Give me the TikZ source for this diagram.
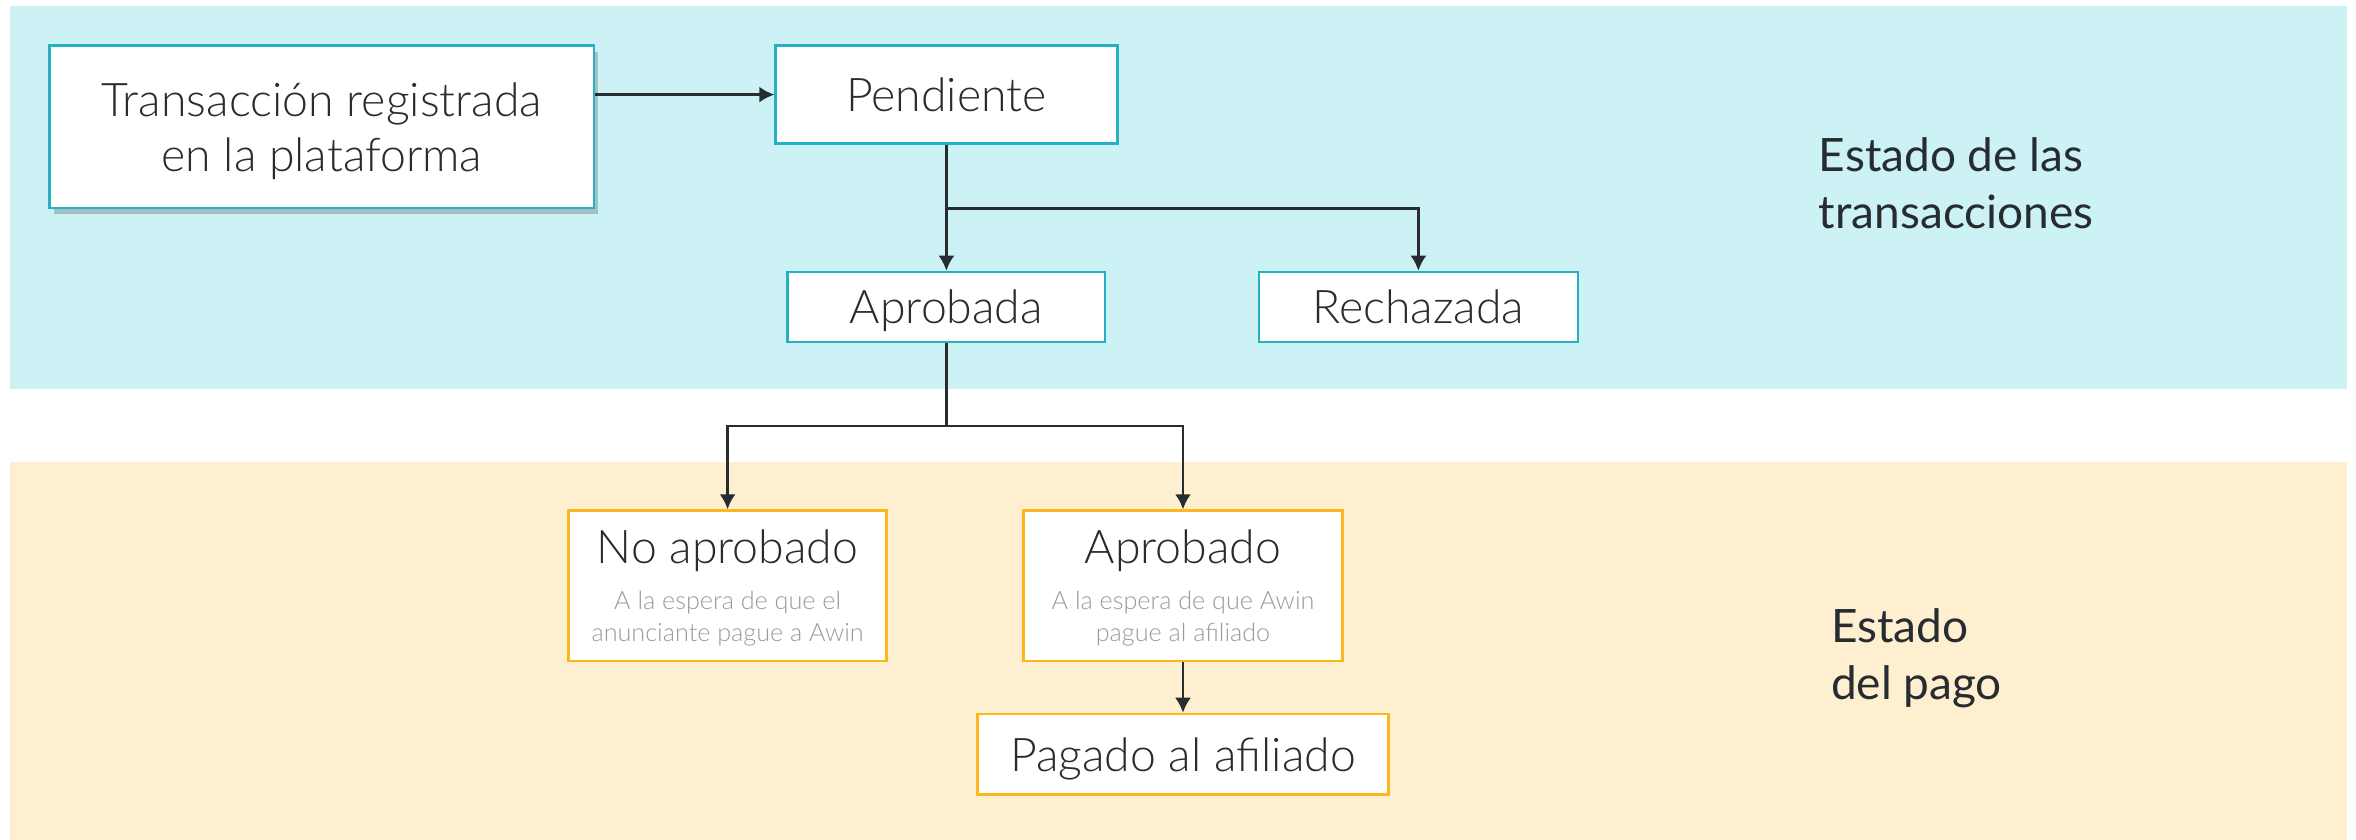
\documentclass[tikz,border=0pt]{standalone}
\usepackage{fontspec}
\setsansfont{Lato}[UprightFont=* Light]
\newfontfamily\labelfont{Lato}
\usetikzlibrary{arrows.meta,shapes,shadows,calc,positioning}
\definecolor{bandBlue}{HTML}{CCF2F5}
\definecolor{bandOrange}{HTML}{FFEFD1}
\definecolor{edgeTeal}{HTML}{27B0BF}
\definecolor{edgeAmber}{HTML}{FDB71C}
\definecolor{ink}{HTML}{262C30}
\definecolor{subGray}{HTML}{9A9A9A}
\newcommand{\stateTitle}[1]{{\fontsize{23.2pt}{27.5pt}\selectfont\color{ink}#1}}
\tikzset{%
  >={Latex[width=8pt,length=7.5pt]},
  % Specifications for style of nodes:
     base/.style = {rectangle, draw, line width=1.3pt, fill=white,
                           inner sep=0pt, text depth=0pt, text=ink, align=center,
                           font=\sffamily\fontsize{23.2pt}{27.5pt}\selectfont},
    transactionState/.style = {base, draw=edgeTeal},
    paymentState/.style = {base, draw=edgeAmber},
    paymentDetail/.style = {paymentState, text=subGray,
                           font=\sffamily\fontsize{12.6pt}{15.8pt}\selectfont},
    stateLabel/.style = {inner sep=0pt, align=left, text=ink,
                           font=\labelfont\fontsize{23pt}{28.5pt}\selectfont},
    flow/.style = {->, line width=1.3pt, draw=ink},
}

\begin{document}
\begin{tikzpicture}[node distance=100pt]
  \useasboundingbox (0,0) rectangle (1178pt,-420pt);
  % Background bands
  \fill[bandBlue]   (5pt,-3.25pt) rectangle (1173.5pt,-194.6pt);
  \fill[bandOrange] (5pt,-231pt)  rectangle (1173.5pt,-420pt);

  % Specification of nodes (position, etc.)
  \node (registeredBlock) [transactionState, minimum width=272.2pt, minimum height=81.2pt,
                           drop shadow={shadow xshift=2pt, shadow yshift=-3pt, fill=black, opacity=0.2}]
                           at (160.9pt,-63.4pt)
                           {Transacción registrada\\en la plataforma};
  \node (pendingBlock)    [transactionState, minimum width=170.8pt, minimum height=49pt,
                           right of=registeredBlock, xshift=212.3pt, yshift=16.1pt]
                           {Pendiente};
  \node (approvedBlock)   [transactionState, minimum width=158.7pt, minimum height=35pt,
                           below of=pendingBlock, yshift=-6.2pt]
                           {Aprobada};
  \node (rejectedBlock)   [transactionState, minimum width=159.4pt, minimum height=35pt,
                           right of=approvedBlock, xshift=136pt]
                           {Rechazada};
  \node (notApprovedBlock) [paymentDetail, minimum width=159pt, minimum height=75.2pt,
                           below of=approvedBlock, xshift=-109.4pt, yshift=-39.4pt]
                           {\stateTitle{No aprobado}\\[7.2pt]
                            A la espera de que el\\anunciante pague a Awin};
  \node (payApprovedBlock) [paymentDetail, minimum width=159.3pt, minimum height=75.2pt,
                           right of=notApprovedBlock, xshift=127.7pt]
                           {\stateTitle{Aprobado}\\[7.2pt]
                            A la espera de que Awin\\pague al afiliado};
  \node (paidBlock)       [paymentState, minimum width=205.7pt, minimum height=40.2pt,
                           below of=payApprovedBlock, yshift=15.8pt]
                           {Pagado al afiliado};

  \node (transactionLabel) [stateLabel, anchor=base west] at (909.2pt,-114.3pt)
                           {Estado de las\\transacciones};
  \node (paymentLabel)     [stateLabel, anchor=base west] at (915.3pt,-349.5pt)
                           {Estado\\del pago};

  % Specification of lines between nodes specified above
  \coordinate (splitPending)  at ([yshift=-31.7pt]pendingBlock.south);
  \coordinate (splitApproved) at ([yshift=-41.35pt]approvedBlock.south);

  \draw[flow]                 (registeredBlock.east |- pendingBlock.west) to (pendingBlock.west);
  \draw[flow]                 (pendingBlock) to (approvedBlock);
  \draw[flow]                 (splitPending) -| (rejectedBlock);

  \draw[flow, -]              (approvedBlock) to (splitApproved);
  \draw[flow]                 (splitApproved) -| (notApprovedBlock);
  \draw[flow]                 (splitApproved) -| (payApprovedBlock);
  \draw[flow]                 (payApprovedBlock) to (paidBlock);
\end{tikzpicture}
\end{document}
